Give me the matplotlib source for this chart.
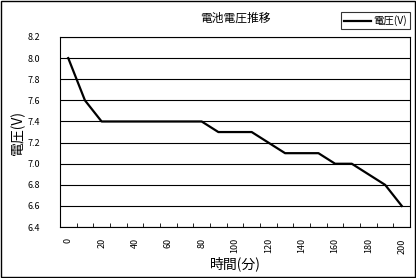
import matplotlib
matplotlib.use("Agg")
import matplotlib.pyplot as plt
from matplotlib.patches import Rectangle
import numpy as np

plt.rcParams['font.family'] = ['Noto Sans CJK JP', 'DejaVu Sans']

minutes = [0, 10, 20, 30, 40, 50, 60, 70, 80, 90, 100, 110, 120, 130, 140, 150, 160, 170, 180, 190, 200]
voltage = [8.0, 7.6, 7.4, 7.4, 7.4, 7.4, 7.4, 7.4, 7.4, 7.3, 7.3, 7.3, 7.2, 7.1, 7.1, 7.1, 7.0, 7.0, 6.9, 6.8, 6.6]
yticks = [6.4, 6.6, 6.8, 7.0, 7.2, 7.4, 7.6, 7.8, 8.0, 8.2]

fig = plt.figure(figsize=(4.16, 2.78), dpi=100)
fig.patches.append(Rectangle((0.002, 0.003), 0.995, 0.994, transform=fig.transFigure,
                             fill=False, edgecolor="black", linewidth=1))
ax = fig.add_axes([0.144, 0.183, 0.842, 0.684])

idx = np.arange(len(minutes))
ax.plot(idx, voltage, color="black", linewidth=1.6, label="電圧(V)")

ax.set_xlim(-0.5, len(minutes) - 0.5)
ax.set_ylim(6.4, 8.2)
ax.set_yticks(yticks)
ax.set_yticklabels(["%.1f" % v for v in yticks], fontsize=6.5)
ax.yaxis.grid(True, color="black", linewidth=0.8)
ax.set_axisbelow(True)
ax.tick_params(axis="y", length=0, pad=14)

ax.set_xticks(idx[::2])
ax.set_xticklabels([str(m) for m in minutes[::2]], rotation=90, fontsize=6.5)
ax.set_xticks(idx[:-1] + 0.5, minor=True)
ax.tick_params(axis="x", which="major", length=0, pad=8)
ax.tick_params(axis="x", which="minor", length=3, direction="in")

for s in ax.spines.values():
    s.set_linewidth(0.8)

ax.set_title("電池電圧推移", fontsize=8.5, pad=11)
ax.set_xlabel("時間(分)", fontsize=10, labelpad=2)
ax.set_ylabel("電圧(V)", fontsize=10, labelpad=2)

leg = ax.legend(loc="upper right", bbox_to_anchor=(1.0, 1.13), fontsize=7.5,
                frameon=True, fancybox=False, edgecolor="black", handlelength=2.6,
                borderpad=0.3, handletextpad=0.2, borderaxespad=0)
leg.get_frame().set_linewidth(0.8)

fig.savefig("out.png", dpi=100)
